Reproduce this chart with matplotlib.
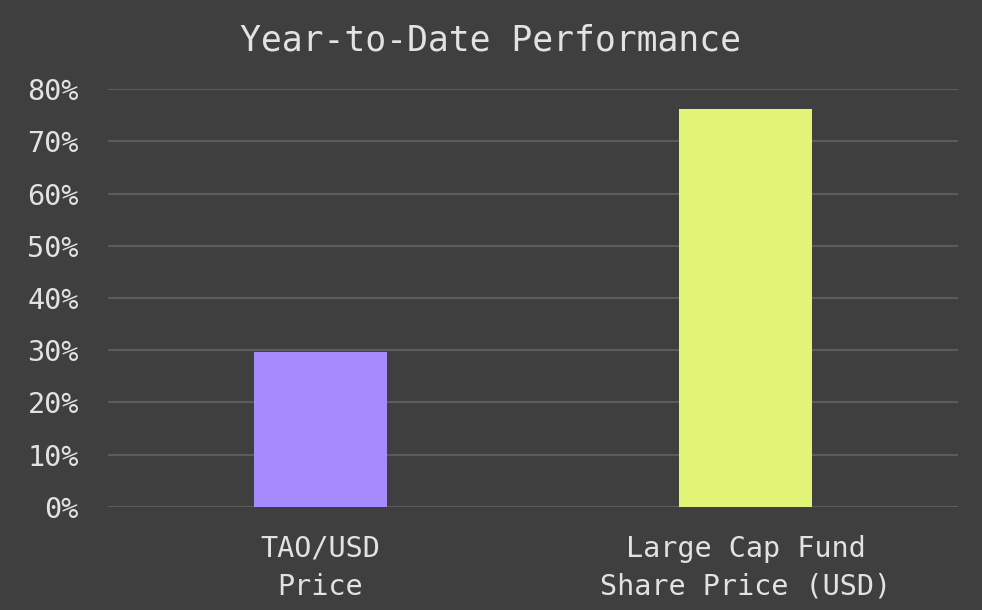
import matplotlib.pyplot as plt
from matplotlib.ticker import FuncFormatter

categories = ["TAO/USD\nPrice", "Large Cap Fund\nShare Price (USD)"]
ytd_return = [29.7, 76.2]
bar_colors = ["#a68aff", "#e2f475"]
y_ticks = [0, 10, 20, 30, 40, 50, 60, 70, 80]

bg = "#3f3f3f"
fg = "#e2e2e2"
plt.rcParams["font.family"] = ["DejaVu Sans Mono"]

fig = plt.figure(figsize=(9.82, 6.10), dpi=100, facecolor=bg)
ax = fig.add_axes([0.110, 0.169, 0.8656, 0.685], facecolor=bg)

x = range(len(categories))
ax.bar(x, ytd_return, width=0.313, color=bar_colors, zorder=3)

ax.set_xlim(-0.5, 1.5)
ax.set_ylim(0, 80)
ax.set_yticks(y_ticks)
ax.yaxis.set_major_formatter(FuncFormatter(lambda v, _: f"{v:.0f}%"))
ax.set_xticks(list(x))
ax.set_xticklabels(categories, linespacing=1.45)

ax.grid(axis="y", color="#5c5c5c", linewidth=1.5, zorder=0)
ax.grid(axis="x", visible=False)
for s in ax.spines.values():
    s.set_visible(False)
ax.tick_params(axis="both", length=0, colors=fg, labelsize=20.5)
ax.tick_params(axis="y", pad=21)
ax.tick_params(axis="x", pad=20)

fig.text(0.5, 0.934, "Year-to-Date Performance", ha="center", va="center",
         color=fg, fontsize=25)

fig.savefig("out.png", dpi=100, facecolor=bg)
